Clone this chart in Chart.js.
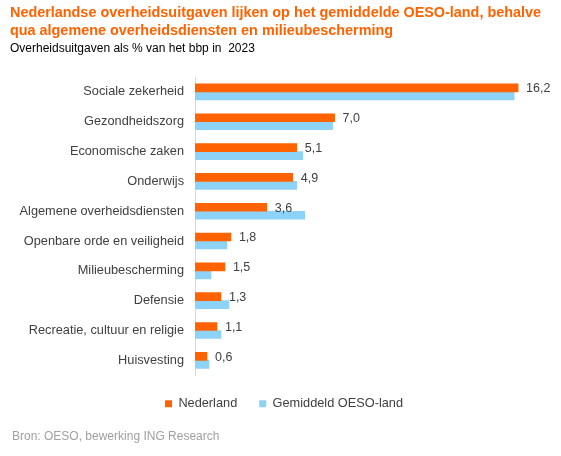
<!DOCTYPE html>
<html>
<head>
<meta charset="utf-8">
<script src="https://cdn.jsdelivr.net/npm/chart.js@4.4.1/dist/chart.umd.min.js"></script>
<style>
  body { margin: 0; background: #fff; font-family: "Liberation Sans", Arial, sans-serif; }
  #wrap { position: relative; width: 561px; height: 456px; overflow: hidden; }
  #title { position: absolute; left: 10px; top: 3px; color: #FF6200; font-weight: bold; font-size: 14.4px; line-height: 18px; white-space: nowrap; }
  #sub { position: absolute; left: 10px; top: 41px; color: #000; font-size: 12px; white-space: pre; }
  #src { position: absolute; left: 12px; top: 429px; color: #a0a0a0; font-size: 12px; }
  #chart { position: absolute; left: 0; top: 0; }
</style>
</head>
<body>
<div id="wrap">
  <canvas id="chart" width="561" height="456"></canvas>
  <div id="title">Nederlandse overheidsuitgaven lijken op het gemiddelde OESO-land, behalve<br>qua algemene overheidsdiensten en milieubescherming</div>
  <div id="sub">Overheidsuitgaven als % van het bbp in  2023</div>
  <div id="src">Bron: OESO, bewerking ING Research</div>
</div>
<script>
// ---- Data ----
const categories = [
  'Sociale zekerheid', 'Gezondheidszorg', 'Economische zaken', 'Onderwijs',
  'Algemene overheidsdiensten', 'Openbare orde en veiligheid', 'Milieubescherming',
  'Defensie', 'Recreatie, cultuur en religie', 'Huisvesting'
];
const nederland = [16.2, 7.0, 5.1, 4.9, 3.6, 1.8, 1.5, 1.3, 1.1, 0.6];
const oesoGemiddeld = [16.0, 6.9, 5.4, 5.1, 5.5, 1.6, 0.8, 1.7, 1.3, 0.7];

const TEXT = '#404040';
const FONT = 'Liberation Sans, Arial, sans-serif';

// value labels right of the orange bars
const valueLabels = {
  id: 'valueLabels',
  afterDatasetsDraw(chart) {
    const ctx = chart.ctx;
    const meta = chart.getDatasetMeta(0);
    ctx.save();
    ctx.fillStyle = TEXT;
    ctx.font = '12.5px ' + FONT;
    ctx.textAlign = 'left';
    ctx.textBaseline = 'middle';
    meta.data.forEach((bar, i) => {
      ctx.fillText(nederland[i].toFixed(1).replace('.', ','), bar.x + 8, bar.y + 1);
    });
    ctx.restore();
  }
};

new Chart(document.getElementById('chart'), {
  type: 'bar',
  data: {
    labels: categories,
    datasets: [
      { label: 'Nederland', data: nederland, backgroundColor: '#FF6200', barThickness: 8 },
      { label: 'Gemiddeld OESO-land', data: oesoGemiddeld, backgroundColor: '#8DD2F7', barThickness: 8 }
    ]
  },
  options: {
    indexAxis: 'y',
    responsive: false,
    animation: false,
    layout: { padding: { top: 77, left: 14, right: 7, bottom: 36 } },
    scales: {
      x: { display: false, min: 0, max: 18 },
      y: {
        grid: { display: false, drawTicks: false },
        border: { display: true, color: '#d9d9d9' },
        ticks: { color: TEXT, font: { family: FONT, size: 12.75 }, padding: 11 },
        afterFit(scale) { scale.width = 181; }
      }
    },
    plugins: {
      legend: {
        position: 'bottom',
        labels: {
          boxWidth: 7, boxHeight: 7, padding: 22,
          color: TEXT, font: { family: FONT, size: 12.75 }
        }
      },
      tooltip: { enabled: false }
    }
  },
  plugins: [valueLabels]
});
</script>
</body>
</html>
